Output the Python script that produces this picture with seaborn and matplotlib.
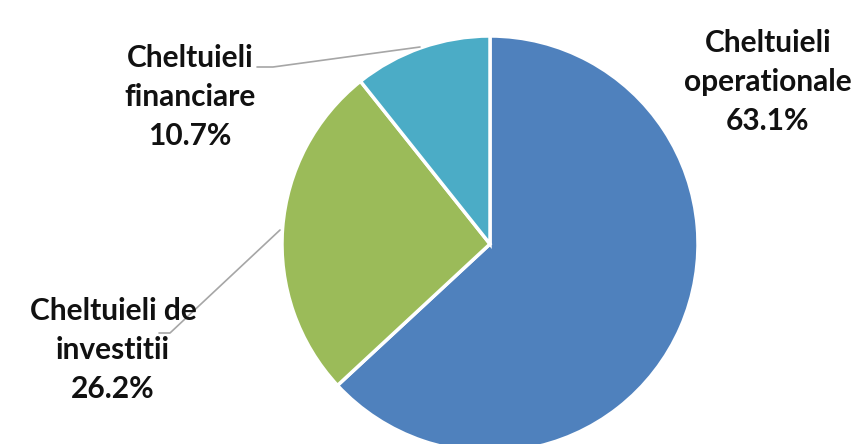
import matplotlib
matplotlib.use("Agg")
import matplotlib.pyplot as plt
import seaborn as sns

categories = ["Cheltuieli\noperationale", "Cheltuieli de\ninvestitii", "Cheltuieli\nfinanciare"]
values = [63.1, 26.2, 10.7]
colors = ["#4F81BD", "#9BBB59", "#4BACC6"]

sns.set_theme(style="white")
plt.rcParams["font.family"] = ["Lato", "DejaVu Sans"]

W, H = 856, 444
fig = plt.figure(figsize=(W / 100, H / 100), dpi=100)
ax = fig.add_axes([0, 0, 1, 1])

cx, cy, r = 490, H - 244, 208
ax.pie(values, colors=colors, startangle=90, counterclock=False,
       center=(cx, cy), radius=r, frame=True,
       wedgeprops=dict(edgecolor="white", linewidth=2.5))
ax.set_xlim(0, W)
ax.set_ylim(0, H)
ax.set_aspect("equal")
ax.axis("off")

# label positions (pixel layout)
label_pos = [(768, H - 82), (113, H - 350), (190, H - 97)]
for cat, v, (lx, ly) in zip(categories, values, label_pos):
    ax.text(lx, ly, f"{cat}\n{v:.1f}%", ha="center", va="center",
            fontsize=21.5, fontweight="bold", color="#111111", linespacing=1.48)

lc = "#A6A6A6"
# leader lines
ax.plot([257, 273, 420], [H - 67, H - 67, H - 47], color=lc, lw=1.2)
ax.plot([159, 170, 280], [H - 333, H - 333, H - 230], color=lc, lw=1.2)

fig.savefig("out.png", dpi=100)
